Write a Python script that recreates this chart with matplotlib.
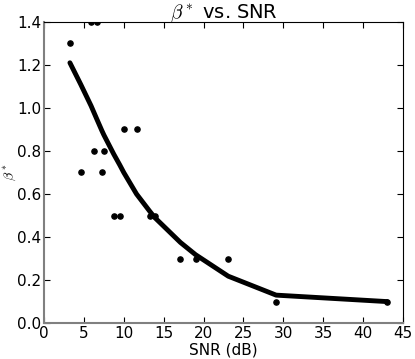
import matplotlib
matplotlib.use("Agg")
import matplotlib.pyplot as plt

# measured points
snr = [3.25, 5.9, 6.6, 4.6, 6.25, 7.5, 7.25, 10.0, 11.6, 8.75, 9.5,
       13.25, 13.9, 17.1, 19.0, 23.1, 29.1, 43.0]
beta = [1.3, 1.4, 1.4, 0.7, 0.8, 0.8, 0.7, 0.9, 0.9, 0.5, 0.5,
        0.5, 0.5, 0.3, 0.3, 0.3, 0.1, 0.1]

# fitted curve
fit_snr = [3.25, 4.6, 5.9, 6.25, 6.6, 7.25, 7.5, 8.75, 9.5, 10.0, 11.6,
           13.25, 13.9, 17.1, 19.0, 23.1, 29.1, 43.0]
fit_beta = [1.21, 1.11, 1.01, 0.98, 0.95, 0.895, 0.875, 0.785, 0.735, 0.70, 0.60,
            0.52, 0.49, 0.375, 0.318, 0.218, 0.13, 0.10]

plt.rcParams["mathtext.fontset"] = "cm"

fig = plt.figure(figsize=(4.15, 3.59), dpi=100)
ax = fig.add_axes([0.106, 0.100, 0.865, 0.839])

ax.scatter(snr, beta, s=14, color="black", zorder=3)
ax.plot(fit_snr, fit_beta, color="black", linewidth=3.5,
        solid_capstyle="round", solid_joinstyle="round")

ax.set_xlim(0, 45)
ax.set_ylim(0, 1.4)
ax.set_xticks(range(0, 46, 5))
ax.set_yticks([0.0, 0.2, 0.4, 0.6, 0.8, 1.0, 1.2, 1.4])
ax.tick_params(direction="in", top=True, right=True, labelsize=11, length=4, pad=2)

for side in ["left", "bottom"]:
    ax.spines[side].set_color("0.5")
    ax.spines[side].set_linewidth(1.5)

ax.set_title(r"$\beta^*$ vs. SNR", fontsize=14, pad=3)
ax.set_xlabel("SNR (dB)", fontsize=11, labelpad=1)
ax.set_ylabel(r"$\beta^*$", fontsize=10)
ax.yaxis.set_label_coords(-0.072, 0.5)

fig.savefig("out.png", dpi=100)
